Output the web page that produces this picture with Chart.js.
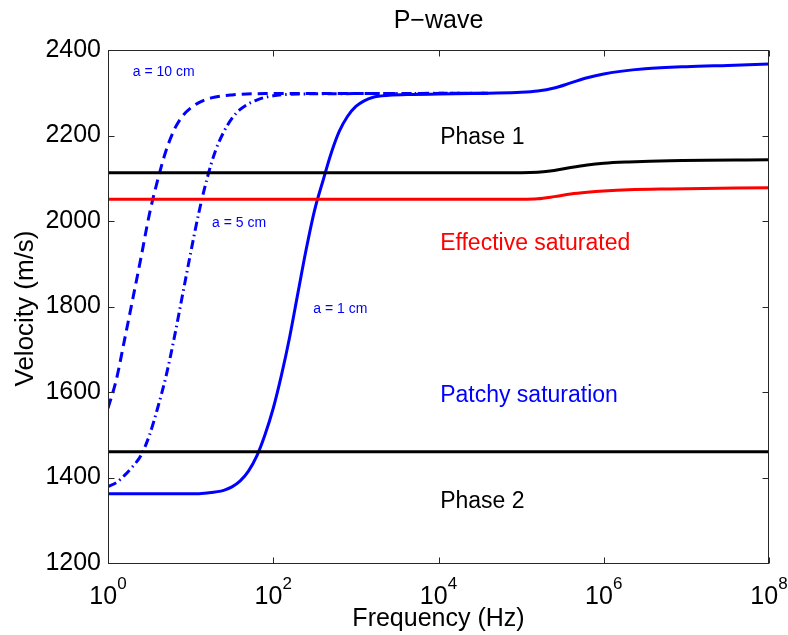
<!DOCTYPE html>
<html>
<head>
<meta charset="utf-8">
<script src="https://cdn.jsdelivr.net/npm/chart.js@4.4.0/dist/chart.umd.min.js"></script>
<style>
  html, body { margin: 0; padding: 0; background: #fff; }
  canvas { display: block; }
</style>
</head>
<body>
<canvas id="chart" width="788" height="635"></canvas>
<script>
// P-wave velocity vs frequency (x stored as log10 of frequency)
const FONT = "'Liberation Sans', Arial, Helvetica, sans-serif";

const xTickExp = [0, 2, 4, 6, 8];
const yTicks = [1200, 1400, 1600, 1800, 2000, 2200, 2400];

// Phase 2 (black, flat)
const phase2Exp = [0, 8];
const phase2Vel = [1460, 1460];

// Phase 1 (black)
const phase1Exp = [0, 4.0, 5.0, 5.2, 5.4, 5.6, 5.8, 6.0, 6.3, 6.8, 8.0];
const phase1Vel = [2113, 2113, 2113, 2114, 2118, 2125, 2131, 2135, 2138, 2141, 2143];

// Effective saturated (red)
const effExp = [0, 4.0, 5.0, 5.2, 5.4, 5.6, 5.8, 6.0, 6.3, 6.8, 8.0];
const effVel = [2051, 2051, 2051, 2052, 2057, 2063, 2067, 2070, 2073, 2075, 2078];

// Patchy, a = 1 cm (solid blue)
const a1Exp = [0, 1.0, 1.2, 1.4, 1.5, 1.6, 1.7, 1.8, 1.9, 2.0, 2.1, 2.2, 2.3, 2.4, 2.5, 2.6, 2.7, 2.8, 2.9, 3.0, 3.1, 3.2, 3.4, 3.7, 4.0, 4.6, 5.0, 5.2, 5.4, 5.6, 5.8, 6.0, 6.2, 6.5, 7.0, 7.5, 8.0];
const a1Vel = [1362, 1362, 1364, 1370, 1378, 1392, 1415, 1450, 1500, 1562, 1640, 1730, 1833, 1935, 2025, 2093, 2158, 2210, 2245, 2268, 2281, 2289, 2294, 2296, 2297, 2299, 2301, 2304, 2311, 2323, 2335, 2344, 2350, 2356, 2361, 2364, 2367];

// Patchy, a = 5 cm (dash-dot blue)
const a5Exp = [0, 0.1, 0.2, 0.3, 0.4, 0.5, 0.6, 0.7, 0.8, 0.9, 1.0, 1.1, 1.2, 1.3, 1.4, 1.5, 1.6, 1.8, 2.0, 2.3, 3.0, 4.6];
const a5Vel = [1379, 1388, 1405, 1426, 1452, 1498, 1562, 1635, 1725, 1825, 1925, 2020, 2100, 2164, 2208, 2240, 2261, 2283, 2293, 2297, 2298, 2299];

// Patchy, a = 10 cm (dashed blue)
const a10Exp = [0, 0.1, 0.2, 0.3, 0.4, 0.5, 0.6, 0.7, 0.8, 0.9, 1.0, 1.1, 1.25, 1.5, 1.9, 3.0, 4.6];
const a10Vel = [1562, 1628, 1722, 1818, 1915, 2015, 2095, 2163, 2213, 2245, 2264, 2277, 2288, 2295, 2298, 2298, 2299];

// Text labels inside the plot: [text, xExp, velocity at baseline, colour, size]
const notes = [
  ['a = 10 cm', 0.30, 2339, '#0000ff', 14],
  ['a = 5 cm', 1.26, 1987, '#0000ff', 14],
  ['a = 1 cm', 2.485, 1785, '#0000ff', 14],
  ['Phase 1', 4.02, 2180, '#000000', 23],
  ['Effective saturated', 4.02, 1932, '#ff0000', 23],
  ['Patchy saturation', 4.02, 1577, '#0000ff', 23],
  ['Phase 2', 4.02, 1329, '#000000', 23]
];

const pts = (xs, ys) => xs.map((x, i) => ({ x: x, y: ys[i] }));

function line(data, color, dash){
  return {
    data, borderColor: color, borderWidth: 3, borderDash: dash || [],
    pointRadius: 0, fill: false, cubicInterpolationMode: 'monotone', borderCapStyle: 'butt'
  };
}

// Box, inward ticks and all the non-tick text
const decor = {
  id: 'decor',
  afterDatasetsDraw(chart){
    const { ctx, chartArea: a, scales: { x, y } } = chart;
    ctx.save();
    ctx.strokeStyle = '#262626';
    ctx.lineWidth = 1;
    const L = Math.round(a.left) + 0.5, R = Math.round(a.right) - 0.5;
    const T = Math.round(a.top) + 0.5, B = Math.round(a.bottom) + 0.5;
    ctx.strokeRect(L, T, R - L, B - T);
    ctx.beginPath();
    xTickExp.forEach(v => {
      const px = Math.round(x.getPixelForValue(v)) + 0.5;
      ctx.moveTo(px, B); ctx.lineTo(px, B - 6);
      ctx.moveTo(px, T); ctx.lineTo(px, T + 6);
    });
    yTicks.forEach(v => {
      const py = Math.round(y.getPixelForValue(v)) + 0.5;
      ctx.moveTo(L, py); ctx.lineTo(L + 6, py);
      ctx.moveTo(R, py); ctx.lineTo(R - 6, py);
    });
    ctx.stroke();

    // x tick labels as 10 with superscript
    ctx.fillStyle = '#000';
    ctx.textBaseline = 'alphabetic';
    ctx.textAlign = 'left';
    xTickExp.forEach(v => {
      const px = x.getPixelForValue(v);
      ctx.font = '25px ' + FONT;
      const wb = ctx.measureText('10').width;
      ctx.font = '17px ' + FONT;
      const ws = ctx.measureText(String(v)).width;
      const x0 = px - (wb + ws) / 2;
      ctx.font = '25px ' + FONT;
      ctx.fillText('10', x0, 604);
      ctx.font = '17px ' + FONT;
      ctx.fillText(String(v), x0 + wb, 589);
    });

    // title and axis titles
    ctx.textAlign = 'center';
    ctx.font = '25px ' + FONT;
    ctx.fillText('P\u2212wave', (a.left + a.right) / 2, 28);
    ctx.fillText('Frequency (Hz)', (a.left + a.right) / 2, 626);
    ctx.save();
    ctx.font = '26px ' + FONT;
    ctx.translate(33, (a.top + a.bottom) / 2 + 2);
    ctx.rotate(-Math.PI / 2);
    ctx.fillText('Velocity (m/s)', 0, 0);
    ctx.restore();

    // in-plot notes
    ctx.textAlign = 'left';
    notes.forEach(([t, xe, v, c, s]) => {
      ctx.fillStyle = c;
      ctx.font = s + 'px ' + FONT;
      ctx.fillText(t, x.getPixelForValue(xe), y.getPixelForValue(v));
    });
    ctx.restore();
  }
};

new Chart(document.getElementById('chart').getContext('2d'), {
  type: 'line',
  data: {
    datasets: [
      line(pts(phase2Exp, phase2Vel), '#000000'),
      line(pts(phase1Exp, phase1Vel), '#000000'),
      line(pts(effExp, effVel), '#ff0000'),
      line(pts(a1Exp, a1Vel), '#0000ff'),
      line(pts(a5Exp, a5Vel), '#0000ff', [9, 4, 1.5, 4]),
      line(pts(a10Exp, a10Vel), '#0000ff', [10, 6])
    ]
  },
  options: {
    responsive: false,
    animation: false,
    layout: { padding: { left: 0, top: 50, right: 19, bottom: 0 } },
    plugins: { legend: { display: false }, tooltip: { enabled: false }, title: { display: false } },
    scales: {
      x: {
        type: 'linear', min: 0, max: 8,
        afterBuildTicks: s => { s.ticks = xTickExp.map(v => ({ value: v })); },
        afterFit: s => { s.height = 72; },
        ticks: { display: false },
        grid: { display: false, drawTicks: false },
        border: { display: false }
      },
      y: {
        type: 'linear', min: 1200, max: 2400,
        afterBuildTicks: s => { s.ticks = yTicks.map(v => ({ value: v })); },
        afterFit: s => { s.width = 108; },
        ticks: { color: '#000', padding: 7, font: { family: FONT, size: 25 }, callback: v => String(v) },
        grid: { display: false, drawTicks: false },
        border: { display: false }
      }
    }
  },
  plugins: [decor]
});
</script>
</body>
</html>
